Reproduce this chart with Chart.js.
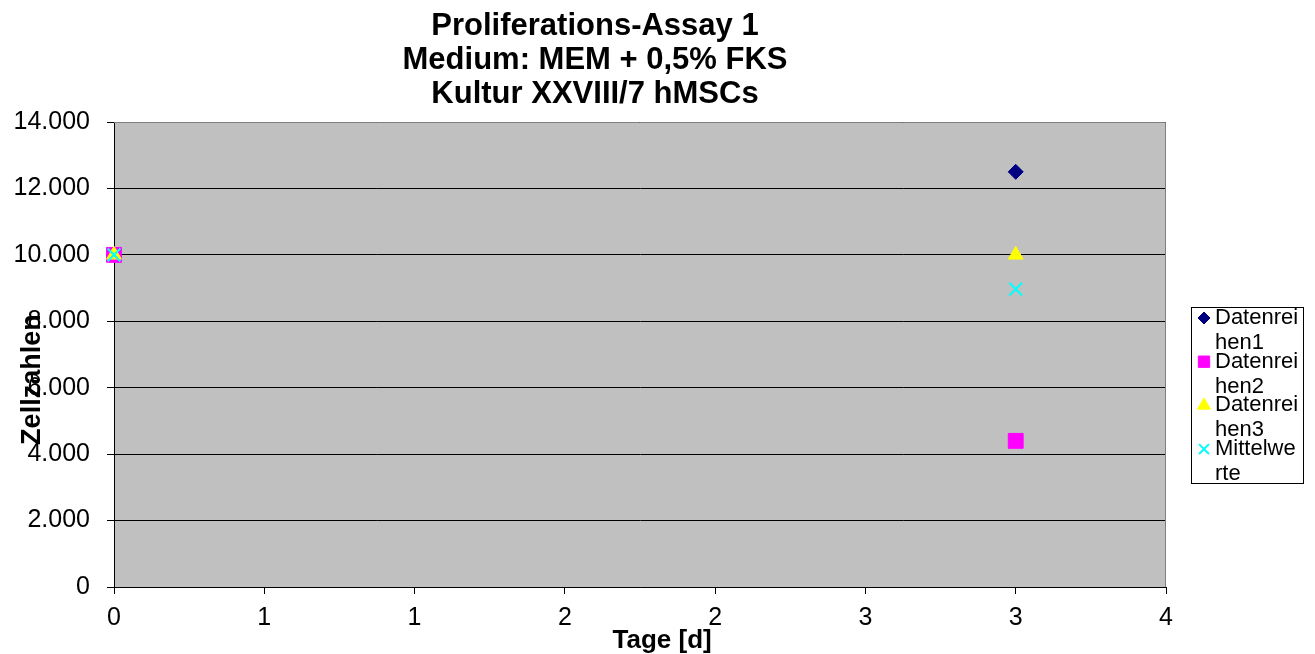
<!DOCTYPE html>
<html>
<head>
<meta charset="utf-8">
<script src="https://cdn.jsdelivr.net/npm/chart.js@4.4.1/dist/chart.umd.min.js"></script>
<style>
  html, body { margin: 0; padding: 0; background: #fff; }
  canvas { display: block; }
</style>
</head>
<body>
<canvas id="assayChart" width="1315" height="654"></canvas>
<script>
// Werte
const tage = [0, 3];
const datenreihen1 = [10000, 12500];
const datenreihen2 = [10000, 4400];
const datenreihen3 = [10000, 10000];
const mittelwerte = [10000, 8967];

const serienNamen = ['Datenreihen1', 'Datenreihen2', 'Datenreihen3', 'Mittelwerte'];
const titelZeilen = ['Proliferations-Assay 1', 'Medium: MEM + 0,5% FKS', 'Kultur XXVIII/7 hMSCs'];
const xTitel = 'Tage [d]';
const yTitel = 'Zellzahlen';
const xTickLabels = ['0', '1', '1', '2', '2', '3', '3', '4'];
const yTickLabels = ['0', '2.000', '4.000', '6.000', '8.000', '10.000', '12.000', '14.000'];

const FONT = "'Liberation Sans', Arial, sans-serif";

function punkte(werte) {
  return tage.map((t, i) => ({ x: t, y: werte[i] }));
}

// grauer Plotbereich + Rahmen
const plotArea = {
  id: 'plotArea',
  beforeDraw(chart) {
    const { ctx, chartArea: a } = chart;
    ctx.save();
    ctx.fillStyle = '#c0c0c0';
    ctx.fillRect(a.left, a.top, a.right - a.left, a.bottom - a.top);
    ctx.restore();
  },
  beforeDatasetsDraw(chart) {
    const { ctx, chartArea: a } = chart;
    ctx.save();
    ctx.strokeStyle = '#808080';
    ctx.lineWidth = 1;
    ctx.beginPath();
    ctx.moveTo(a.left, a.top + 0.5);
    ctx.lineTo(a.right - 0.5, a.top + 0.5);
    ctx.lineTo(a.right - 0.5, a.bottom);
    ctx.stroke();
    ctx.restore();
  }
};

// Diagramm- und Achsentitel wie im Excel-Original (leicht versetzt)
const titel = {
  id: 'titel',
  afterDraw(chart) {
    const { ctx, chartArea: a } = chart;
    ctx.save();
    ctx.fillStyle = '#000';
    ctx.textAlign = 'center';
    ctx.textBaseline = 'middle';
    ctx.font = 'bold 31px ' + FONT;
    titelZeilen.forEach((z, i) => ctx.fillText(z, 595, 26 + i * 34));
    ctx.font = 'bold 26px ' + FONT;
    ctx.fillText(xTitel, a.left + (a.right - a.left) * 0.521, 641);
    ctx.translate(33, a.top + (a.bottom - a.top) * 0.554);
    ctx.rotate(-Math.PI / 2);
    ctx.font = 'bold 27px ' + FONT;
    ctx.fillText(yTitel, 0, 0);
    ctx.restore();
  }
};

// Legende im Excel-Stil mit umbrochenem Text
const excelLegend = {
  id: 'excelLegend',
  afterDraw(chart) {
    const { ctx, chartArea: a } = chart;
    const left = a.right + 25, top = 307, w = 112, h = 176;
    ctx.save();
    ctx.fillStyle = '#fff';
    ctx.fillRect(left, top, w, h);
    ctx.strokeStyle = '#000';
    ctx.lineWidth = 1;
    ctx.strokeRect(left + 0.5, top + 0.5, w, h);

    ctx.font = '22px ' + FONT;
    ctx.textBaseline = 'middle';
    ctx.textAlign = 'left';
    const maxW = 88;
    const legendRadius = { rectRot: 6, rect: 8, triangle: 7.5, crossRot: 7 };

    chart.data.datasets.forEach((ds, i) => {
      const y = top + 11 + i * 43.7;
      const lines = [];
      let cur = '';
      for (const ch of ds.label) {
        if (ctx.measureText(cur + ch).width > maxW && cur) { lines.push(cur); cur = ch; }
        else cur += ch;
      }
      lines.push(cur);
      ctx.fillStyle = '#000';
      lines.forEach((ln, j) => ctx.fillText(ln, left + 24, y + j * 25));

      ctx.fillStyle = ds.backgroundColor;
      ctx.strokeStyle = ds.borderColor;
      ctx.lineWidth = ds.pointStyle === 'crossRot' ? 2 : 1;
      Chart.helpers.drawPoint(ctx, {
        pointStyle: ds.pointStyle,
        radius: legendRadius[ds.pointStyle],
        rotation: 0,
        borderWidth: ctx.lineWidth
      }, left + 13, y);
    });
    ctx.restore();
  }
};

new Chart(document.getElementById('assayChart'), {
  type: 'scatter',
  data: {
    datasets: [{
      label: serienNamen[0],
      data: punkte(datenreihen1),
      pointStyle: 'rectRot',
      pointRadius: 7.5,
      backgroundColor: '#000080',
      borderColor: '#000080',
      borderWidth: 1,
      order: 3
    }, {
      label: serienNamen[1],
      data: punkte(datenreihen2),
      pointStyle: 'rect',
      pointRadius: 10.5,
      backgroundColor: '#ff00ff',
      borderColor: '#ff00ff',
      borderWidth: 1,
      order: 2
    }, {
      label: serienNamen[2],
      data: punkte(datenreihen3),
      pointStyle: 'triangle',
      pointRadius: 8.5,
      backgroundColor: '#ffff00',
      borderColor: '#ffff00',
      borderWidth: 1,
      order: 1
    }, {
      label: serienNamen[3],
      data: punkte(mittelwerte),
      pointStyle: 'crossRot',
      pointRadius: 9,
      backgroundColor: '#00ffff',
      borderColor: '#00ffff',
      borderWidth: 2,
      order: 0
    }].map(ds => Object.assign(ds, { showLine: false, clip: false, pointHoverRadius: ds.pointRadius }))
  },
  options: {
    responsive: false,
    devicePixelRatio: 1,
    animation: false,
    layout: { padding: { left: 0, right: 149, top: 122, bottom: 0 } },
    plugins: {
      legend: { display: false },
      tooltip: { enabled: false },
      title: { display: false }
    },
    scales: {
      x: {
        type: 'linear',
        min: 0,
        max: 3.5,
        afterFit(s) { s.height = 67; },
        ticks: {
          stepSize: 0.5,
          color: '#000',
          padding: 9,
          maxRotation: 0,
          font: { family: FONT, size: 25 },
          callback: (v, i) => xTickLabels[i]
        },
        grid: { drawOnChartArea: false, drawTicks: true, tickLength: 7, color: '#000' },
        border: { display: true, color: '#000', width: 1 },
        title: { display: false }
      },
      y: {
        min: 0,
        max: 14000,
        afterFit(s) { s.width = 114; },
        ticks: {
          stepSize: 2000,
          color: '#000',
          padding: 17,
          font: { family: FONT, size: 25 },
          callback: (v, i) => yTickLabels[i]
        },
        grid: { color: '#000', lineWidth: 1, tickLength: 7, tickColor: '#000' },
        border: { display: true, color: '#000', width: 1 },
        title: { display: false }
      }
    }
  },
  plugins: [plotArea, titel, excelLegend]
});
</script>
</body>
</html>
